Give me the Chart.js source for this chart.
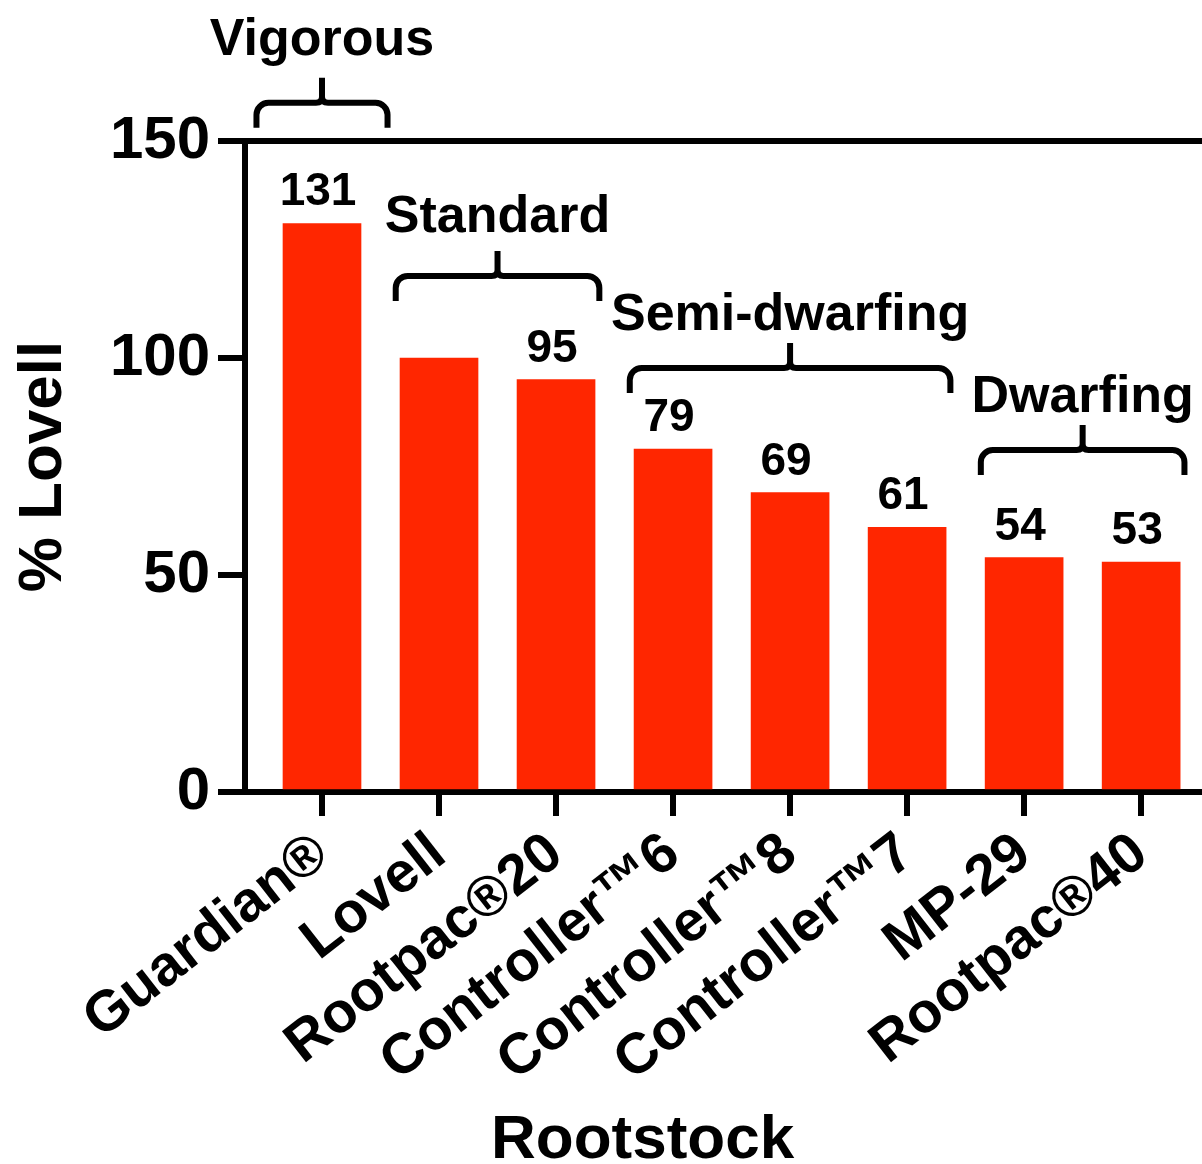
<!DOCTYPE html>
<html>
<head>
<meta charset="utf-8">
<script src="https://cdn.jsdelivr.net/npm/chart.js@4"></script>
<style>
  html, body { margin: 0; padding: 0; background: #fff; }
  #wrap { width: 1202px; height: 1164px; position: relative; }
</style>
</head>
<body>
<div id="wrap"><canvas id="myChart"></canvas></div>
<script>
// data
var rootstocks = ['Guardian\u00AE', 'Lovell', 'Rootpac\u00AE20', 'Controller\u21226', 'Controller\u21228', 'Controller\u21227', 'MP-29', 'Rootpac\u00AE40']
var percentLovell = [131, 100, 95, 79, 69, 61, 54, 53]
var showValue = [true, false, true, true, true, true, true, true]
var yTicks = [0, 50, 100, 150]

var groupNames = ['Vigorous', 'Standard', 'Semi-dwarfing', 'Dwarfing']
var groupFirst = [0, 1, 3, 6]
var groupLast = [0, 2, 5, 7]

var FONT = '"Liberation Sans", Arial, sans-serif'
var RED = '#FF2600'

// value labels over bars + group brackets + x title
var annotate = {
  id: 'annotate',
  afterDraw: function (chart, args, opts) {
    var ctx = chart.ctx
    var x = chart.scales.x, y = chart.scales.y
    var meta = chart.getDatasetMeta(0)
    ctx.save()
    ctx.fillStyle = '#000'
    ctx.strokeStyle = '#000'

    ctx.font = 'bold 46px ' + FONT
    ctx.textAlign = 'center'
    ctx.textBaseline = 'alphabetic'
    meta.data.forEach(function (bar, i) {
      if (!showValue[i]) return
      ctx.fillText(String(percentLovell[i]), bar.x - 4, bar.y - 18)
    })

    ctx.lineWidth = 6
    ctx.lineJoin = 'round'
    groupNames.forEach(function (name, g) {
      var mid = (groupFirst[g] + groupLast[g]) / 2
      var half = Math.max((groupLast[g] - groupFirst[g]) / 2 + 0.37, 0.56)
      var xl = x.getPixelForValue(mid - half)
      var xr = x.getPixelForValue(mid + half)
      var by = y.getPixelForValue(opts.bracketLevel[g])
      var xc = (xl + xr) / 2, r = 12, hook = 25, peak = 25, s = 6
      ctx.beginPath()
      ctx.moveTo(xl, by + hook)
      ctx.arcTo(xl, by, xl + r, by, r)
      ctx.lineTo(xc - s, by)
      ctx.quadraticCurveTo(xc, by, xc, by - s)
      ctx.lineTo(xc, by - peak)
      ctx.moveTo(xc, by - s)
      ctx.quadraticCurveTo(xc, by, xc + s, by)
      ctx.arcTo(xr, by, xr, by + r, r)
      ctx.lineTo(xr, by + hook)
      ctx.stroke()

      ctx.font = 'bold 52px ' + FONT
      ctx.textAlign = 'center'
      var tx = x.getPixelForValue(mid)
      var ty = y.getPixelForValue(opts.textLevel[g])
      var w = ctx.measureText(name).width
      if (tx + w / 2 > chart.width - 4) tx = chart.width - 4 - w / 2
      ctx.fillText(name, tx, ty)
    })

    ctx.font = 'bold 62px ' + FONT
    ctx.textAlign = 'center'
    ctx.fillText('Rootstock', x.getPixelForValue(2.74), chart.height - 6)
    ctx.restore()
  }
}

function drawChart() {
  var ctx = document.getElementById('myChart').getContext('2d')
  var myChart = new Chart(ctx, {
    type: 'bar',
    data: {
      datasets: [{
        data: percentLovell.map(function (v, i) { return { x: i, y: v } }),
        backgroundColor: RED,
        borderWidth: 0,
        barThickness: 78
      }]
    },
    options: {
      responsive: true,
      maintainAspectRatio: false,
      animation: false,
      devicePixelRatio: 1,
      layout: { padding: { top: 141, left: 0, right: 0, bottom: 0 } },
      plugins: {
        legend: { display: false },
        tooltip: { enabled: false },
        annotate: {
          bracketLevel: [158.8, 118.9, 97.7, 78.8],
          textLevel: [169.8, 129.0, 106.5, 87.6]
        }
      },
      scales: {
        x: {
          type: 'linear',
          offset: false,
          min: -0.658,
          max: 7.52,
          afterBuildTicks: function (s) { s.ticks = rootstocks.map(function (c, i) { return { value: i } }) },
          afterFit: function (s) { s.height = 372 },
          border: { display: true, color: '#000', width: 6 },
          grid: { offset: false, drawOnChartArea: false, color: '#000', tickColor: '#000', tickLength: 24, tickWidth: 6, lineWidth: 6 },
          ticks: {
            autoSkip: false,
            minRotation: 38,
            maxRotation: 38,
            padding: 4,
            color: '#000',
            font: { family: FONT, size: 57, weight: 'bold' },
            callback: function (v) { return rootstocks[v] }
          }
        },
        y: {
          min: 0,
          max: 150,
          afterBuildTicks: function (s) { s.ticks = yTicks.map(function (v) { return { value: v } }) },
          afterFit: function (s) { s.width = 245 },
          border: { display: true, color: '#000', width: 6 },
          grid: {
            drawOnChartArea: true,
            color: function (c) { return c.tick && c.tick.value === 150 ? '#000' : 'rgba(0,0,0,0)' },
            tickColor: '#000',
            tickLength: 27,
            tickWidth: 6,
            lineWidth: 6
          },
          ticks: {
            padding: 8,
            color: '#000',
            font: { family: FONT, size: 60, weight: 'bold' }
          },
          title: {
            display: true,
            text: '% Lovell',
            color: '#000',
            padding: { top: 13, bottom: 0 },
            font: { family: FONT, size: 62, weight: 'bold', lineHeight: 1 }
          }
        }
      }
    },
    plugins: [annotate]
  })
}

document.addEventListener('DOMContentLoaded', drawChart)
</script>
</body>
</html>
